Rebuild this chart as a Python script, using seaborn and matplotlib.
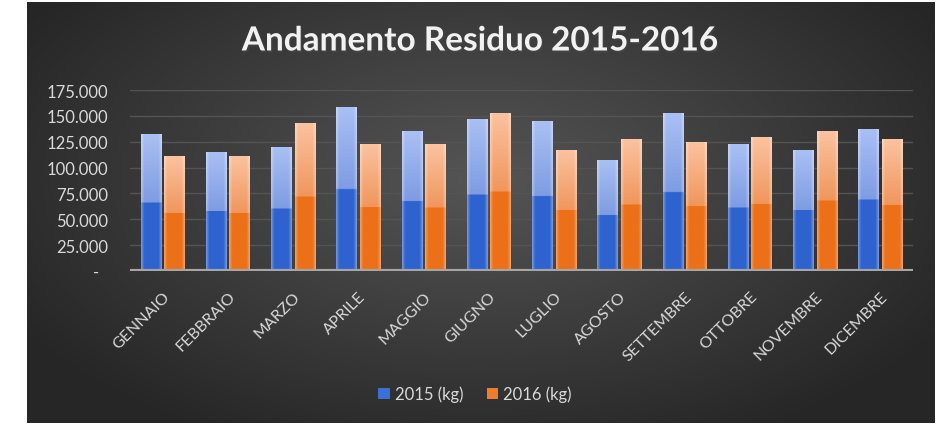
import numpy as np
import pandas as pd
import matplotlib
matplotlib.use("Agg")
import matplotlib.pyplot as plt
import matplotlib.patheffects as pe
from matplotlib.patches import Patch
from matplotlib.ticker import FuncFormatter
import seaborn as sns

mesi = ["GENNAIO", "FEBBRAIO", "MARZO", "APRILE", "MAGGIO", "GIUGNO",
        "LUGLIO", "AGOSTO", "SETTEMBRE", "OTTOBRE", "NOVEMBRE", "DICEMBRE"]
kg_2015 = [132000, 115500, 120000, 158500, 135000, 147000,
           145000, 107500, 152500, 122500, 117000, 137500]
kg_2016 = [111500, 111500, 143500, 123000, 122500, 153000,
           117000, 128000, 125000, 129500, 135500, 127500]
serie = ["2015 (kg)", "2016 (kg)"]
colori = ["#3d6fd8", "#f07d2c"]

df = pd.DataFrame({
    "mese": mesi * 2,
    "kg": kg_2015 + kg_2016,
    "anno": [serie[0]] * 12 + [serie[1]] * 12,
})

sns.set_theme(style="dark")
plt.rcParams["font.family"] = ["Lato", "DejaVu Sans"]

W, H = 941, 427
fig = plt.figure(figsize=(W / 100, H / 100), dpi=100, facecolor="white")

# dark panel with radial gradient
bg = fig.add_axes([27 / W, 3 / H, 908 / W, 421 / H])
bg.axis("off")
yy, xx = np.mgrid[0:1:300j, 0:1:600j]
d = np.sqrt(((xx - 0.5) / 0.6) ** 2 + ((yy - 0.42) / 0.7) ** 2)
g = 0x55 - (0x55 - 0x26) * np.clip(d, 0, 1)
bg.imshow(np.dstack([g, g, g]) / 255, extent=(0, 1, 0, 1), aspect="auto", origin="upper")
bg.set_xlim(0, 1)
bg.set_ylim(0, 1)

ax = fig.add_axes([130 / W, (H - 272) / H, 783 / W, 181 / H])
ax.set_facecolor("none")

sns.barplot(data=df, x="mese", y="kg", hue="anno", palette=colori,
            width=0.72, gap=0.12, saturation=1, legend=False, ax=ax, zorder=3)


def bar_img(top, mid, dark, nr=120, nc=40):
    top, mid, dark = (np.array(matplotlib.colors.to_rgb(c)) for c in (top, mid, dark))
    img = np.zeros((nr, nc, 3))
    for r in range(nr):
        t = r / (nr - 1)
        if t < 0.5:
            c = top + (mid - top) * (t / 0.5)
        else:
            c = dark
        img[r, :] = c
    u = np.linspace(0, 1, nc)
    e = np.clip(1 - np.minimum(u, 1 - u) / 0.15, 0, 1)
    img = img + (1 - img) * (0.35 * e)[None, :, None]
    return img


imgs = {
    0: bar_img("#aac0f4", "#7e9ce2", "#2e63cf"),
    1: bar_img("#fbc3a0", "#f0965c", "#ec7018"),
}

for p in list(ax.patches):
    fc = p.get_facecolor()
    k = 0 if fc[2] > fc[0] else 1
    x0, y0 = p.get_x(), p.get_y()
    w, h = p.get_width(), p.get_height()
    if h <= 0:
        continue
    im = ax.imshow(imgs[k], extent=(x0, x0 + w, y0, y0 + h), aspect="auto",
                   origin="upper", zorder=3, interpolation="bilinear")
    im.set_clip_path(p)
    p.set_facecolor("none")
    p.set_edgecolor("none")

ax.set_xlim(-0.5, len(mesi) - 0.5)
ax.set_ylim(0, 175000)
ax.set_yticks(range(0, 175001, 25000))
ax.yaxis.set_major_formatter(FuncFormatter(
    lambda v, p: "-  " if v == 0 else f"{int(v):,}".replace(",", ".")))
ax.grid(axis="y", color="#545454", lw=1)
ax.grid(axis="x", visible=False)
ax.set_axisbelow(True)
ax.axhline(0, color="#a6a6a6", lw=3, zorder=4)
for s in ax.spines.values():
    s.set_visible(False)
ax.set_xlabel("")
ax.set_ylabel("")
ax.tick_params(axis="y", length=0, pad=16, labelcolor="#d9d9d9", labelsize=12)
ax.tick_params(axis="x", length=0, pad=13, labelcolor="#d9d9d9", labelsize=11.5)
ax.set_xticks(range(len(mesi)))
ax.set_xticklabels(mesi, rotation=45, ha="right", va="top", rotation_mode="anchor")

handles = [Patch(facecolor=c, edgecolor="none") for c in colori]
ax.legend(handles, serie, loc="center", bbox_to_anchor=(475 / W, (H - 395) / H),
          bbox_transform=fig.transFigure, ncol=2, frameon=False,
          handlelength=0.7, handleheight=0.7, handletextpad=0.3,
          columnspacing=1.4, labelcolor="#d9d9d9", fontsize=12)

fig.text(480 / W, 1 - 42 / H, "Andamento Residuo 2015-2016", ha="center", va="center",
         fontsize=24, fontweight="bold", color="#f2f2f2",
         path_effects=[pe.withSimplePatchShadow(offset=(1, -1.5), alpha=0.5)])

fig.savefig("out.png", dpi=100, facecolor="white")
